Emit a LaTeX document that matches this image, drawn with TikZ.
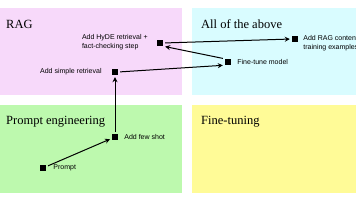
\documentclass[tikz,border=0pt]{standalone}
\usepackage{xcolor}
\usepackage{fontspec}
\usepackage{tikz}
\usetikzlibrary{arrows.meta, positioning}
\newfontfamily\titlefont{Liberation Serif}
\newfontfamily\labelfont{Liberation Sans}
\definecolor{ragpink}{HTML}{F7D9FA}
\definecolor{allcyan}{HTML}{D9FCFF}
\definecolor{promptgreen}{HTML}{BDF9AE}
\definecolor{tuneyellow}{HTML}{FFFB97}

\begin{document}
\begin{tikzpicture}[x=1pt, y=-1pt,
		panel/.style={anchor=north west, inner sep=0pt, draw=none},
		ttl/.style={anchor=west, inner sep=0pt, font=\titlefont\fontsize{12.5}{14}\selectfont},
		pt/.style={fill=black, minimum size=6pt, inner sep=0pt},
		lbl/.style={inner sep=0pt, align=left, font=\labelfont\fontsize{7}{9}\selectfont},
		arr/.style={-{Stealth[length=5pt, width=5pt]}, line width=1pt, shorten >=2pt, shorten <=2pt},
		>=Stealth
	]
	% canvas, same size as the reference
	\useasboundingbox (0,0) rectangle (356,200);
	\clip (0,0) rectangle (356,200);

	% four quadrants
	\node[panel, fill=ragpink, minimum width=182pt, minimum height=87pt] (rag) at (0,8) {};
	\node[panel, fill=allcyan, minimum width=164pt, minimum height=87pt] (all) at (192,8) {};
	\node[panel, fill=promptgreen, minimum width=182pt, minimum height=88pt] (pe) at (0,105) {};
	\node[panel, fill=tuneyellow, minimum width=164pt, minimum height=88pt] (ft) at (192,105) {};

	\node[ttl] (ragttl) at (6,24) {RAG};
	\node[ttl] (allttl) at (201,24) {All of the above};
	\node[ttl] (pettl) at (6,122) {Prompt engineering};
	\node[ttl] (ftttl) at (201,122) {Fine-tuning};

	% steps
	\node[pt] (prompt) at (43,168) {};
	\node[pt] (fewshot) at (115,137) {};
	\node[pt] (simple) at (115,72) {};
	\node[pt] (hyde) at (160,43) {};
	\node[pt] (finetune) at (228,62) {};
	\node[pt] (ragdata) at (295,39) {};

	\node[lbl, right=7pt of prompt] (promptlab) {Prompt};
	\node[lbl, right=6pt of fewshot] (fewshotlab) {Add few shot};
	\node[lbl, left=10pt of simple] (simplelab) {Add simple retrieval};
	\node[lbl, left=9pt of hyde, yshift=1pt] (hydelab) {Add HyDE retrieval +\\fact-checking step};
	\node[lbl, right=6pt of finetune] (finetunelab) {Fine-tune model};
	\node[lbl, right=5pt of ragdata, yshift=-4pt] (ragdatalab) {Add RAG content to\\training examples};

	% path through the quadrants
	\draw[arr] (prompt) -- (fewshot);
	\draw[arr] (fewshot) -- (simple);
	\draw[arr] (simple.east) -- (finetune.south west);
	\draw[arr] (finetune.north west) -- (hyde.south east);
	\draw[arr] (hyde.east) -- (ragdata.west);
\end{tikzpicture}
\end{document}
